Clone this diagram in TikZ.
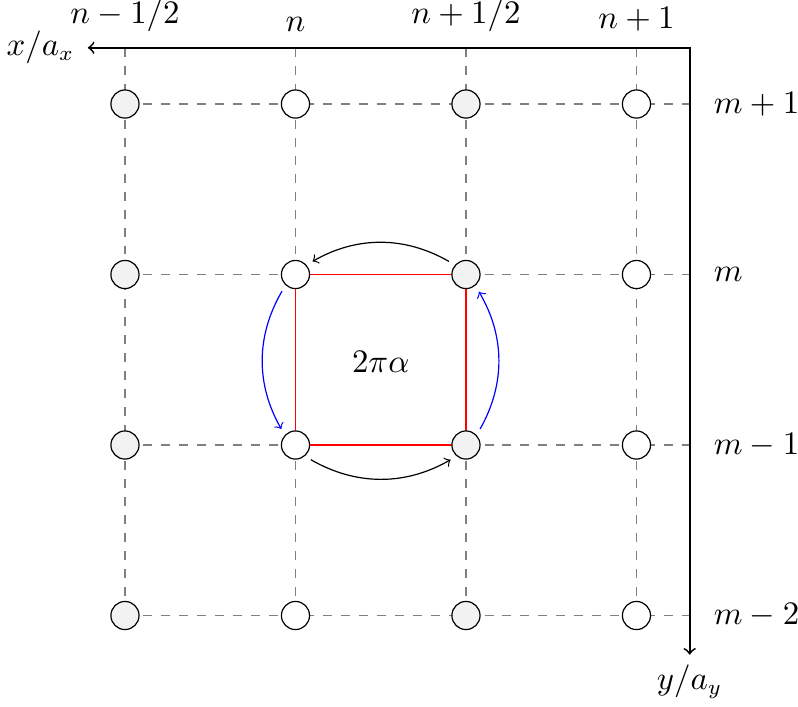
\documentclass[tikz,border=0pt]{standalone}
\begin{document}
\begin{tikzpicture}[
  font=\fontsize{10.7pt}{13pt}\selectfont,
  site/.style={circle,draw,minimum size=0.33cm,inner sep=0pt,fill=white},
  siteB/.style={site,fill=gray!10},
  gridline/.style={gray,dashed},
  axisline/.style={semithick},
  hop/.style={->,bend right=30,shorten >=2.3pt,shorten <=2.3pt},
  toplabel/.style={anchor=south,inner sep=3.33pt},
  sidelabel/.style={anchor=west},
]
\useasboundingbox (0,0) rectangle (9.361,-8.282);
% axis coordinates
\coordinate (O) at (8.09,-0.56);
\coordinate (X) at (1.03,-0.56);
\coordinate (Y) at (8.09,-7.68);
% grid coordinates
\foreach \i in {0,...,3}{
  \coordinate (t\i) at ({1.466+2*\i},-0.56);
  \coordinate (b\i) at ({1.466+2*\i},{-1.22-6});
}
\foreach \j in {0,...,3}{
  \coordinate (l\j) at (1.466,{-1.22-2*\j});
  \coordinate (r\j) at (8.09,{-1.22-2*\j});
}
% dashed grid
\foreach \i in {0,...,3}{ \draw[gridline] (t\i) -- (b\i); }
\foreach \j in {0,...,3}{ \draw[gridline] (l\j) -- (r\j); }
% axes
\draw[axisline,<->] (X) -- (O) -- (Y);
\node[anchor=east,xshift=-1pt] (xl) at (X) {$x/a_x$};
\node[anchor=north] (yl) at (Y) {$y/a_y$};
% sites
\foreach \i/\s in {0/siteB,1/site,2/siteB,3/site}{
  \foreach \j in {0,...,3}{
    \node[\s] (c\i\j) at ({1.466+2*\i},{-1.22-2*\j}) {};
  }
}
% column labels
\node[toplabel] (n0) at (1.466,-0.49) {$n-1/2$};
\node[toplabel] (n1) at (3.466,-0.49) {$n$};
\node[toplabel] (n2) at (5.466,-0.49) {$n+1/2$};
\node[toplabel] (n3) at (7.466,-0.49) {$n+1$};
% row labels
\node[sidelabel] (m0) at (8.25,-1.22) {$m+1$};
\node[sidelabel] (m1) at (8.25,-3.22) {$m$};
\node[sidelabel] (m2) at (8.25,-5.22) {$m-1$};
\node[sidelabel] (m3) at (8.25,-7.22) {$m-2$};
% plaquette
\draw[red] (c11) -- (c21) -- (c22) -- (c12) -- (c11);
\node (flux) at (4.466,-4.24) {$2\pi\alpha$};
% hopping arrows
\draw[hop] (c21.139) to (c11.41);
\draw[hop] (c12.-50) to (c22.-130);
\draw[hop,blue] (c11.-133) to (c12.137);
\draw[hop,blue] (c22.43) to (c21.-50);
\end{tikzpicture}
\end{document}
